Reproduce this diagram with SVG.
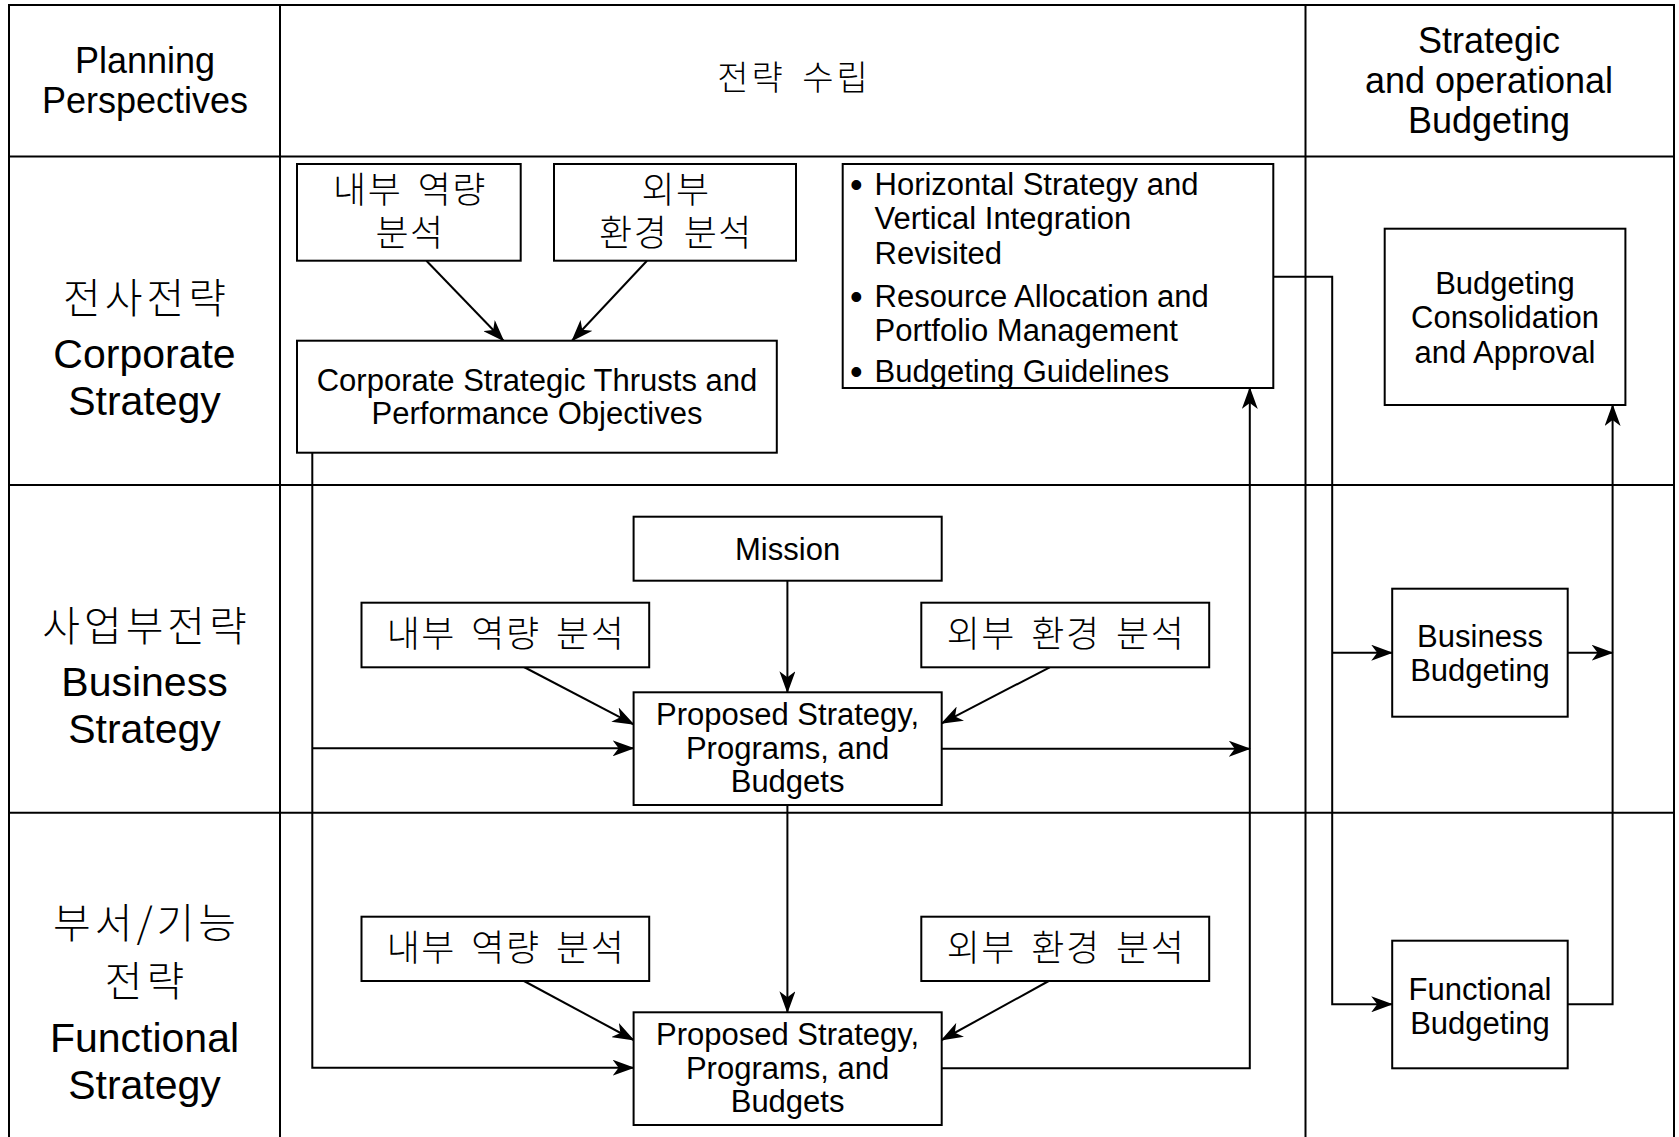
<svg xmlns="http://www.w3.org/2000/svg" width="1679" height="1137" viewBox="0 0 1679 1137">
  <style>
    .grid { stroke: #000; stroke-width: 2; fill: none; }
    .box { fill: #fff; stroke: #000; stroke-width: 2; }
    .conn { stroke: #000; stroke-width: 2; fill: none; }
    .arr { marker-end: url(#head); }
    text { fill: #000; text-anchor: middle; }
    .en { font-family: "Liberation Sans", Arial, sans-serif; }
    .ko { font-family: "Noto Sans CJK KR", "Noto Sans", sans-serif; font-weight: 300; word-spacing: 6px; }
    .hd { font-size: 36px; }
    .lbl { font-size: 41px; }
    .klbl { font-size: 41px; letter-spacing: 4px; }
    .bx { font-size: 31px; }
    .kbx { font-size: 36px; letter-spacing: 1.5px; }
    .dot { font-size: 36px; }
    .left { text-anchor: start; }
  </style>
  <defs>
    <marker id="head" viewBox="0 0 22 16" markerWidth="22" markerHeight="16" refX="21" refY="8" orient="auto" markerUnits="userSpaceOnUse">
      <path d="M0,0 L22,8 L0,16 L6,8 Z" fill="#000"/>
    </marker>
  </defs>

  <rect width="1679" height="1137" fill="#fff"/>

  <!-- table frame -->
  <g id="grid" class="grid">
    <rect x="9" y="5" width="1665" height="1140"/>
    <line x1="280" y1="5" x2="280" y2="1137"/>
    <line x1="1305.5" y1="5" x2="1305.5" y2="1137"/>
    <line x1="9" y1="156.5" x2="1674" y2="156.5"/>
    <line x1="9" y1="485" x2="1674" y2="485"/>
    <line x1="9" y1="812.7" x2="1674" y2="812.7"/>
  </g>

  <!-- column headers -->
  <g id="hdr-perspectives">
    <text class="en hd" x="145" y="72.5">Planning</text>
    <text class="en hd" x="145" y="112.5">Perspectives</text>
  </g>
  <g id="hdr-formulation">
    <text class="ko" font-size="34" letter-spacing="3" word-spacing="14" x="794" y="89.5">전략 수립</text>
  </g>
  <g id="hdr-budgeting">
    <text class="en hd" x="1489" y="53">Strategic</text>
    <text class="en hd" x="1489" y="93">and operational</text>
    <text class="en hd" x="1489" y="133">Budgeting</text>
  </g>

  <!-- row labels -->
  <g id="row-corporate">
    <text class="ko klbl" x="146.5" y="313">전사전략</text>
    <text class="en lbl" x="144.5" y="367.5">Corporate</text>
    <text class="en lbl" x="144.5" y="414.5">Strategy</text>
  </g>
  <g id="row-business">
    <text class="ko klbl" x="146.5" y="641">사업부전략</text>
    <text class="en lbl" x="144.5" y="695.5">Business</text>
    <text class="en lbl" x="144.5" y="742.5">Strategy</text>
  </g>
  <g id="row-functional">
    <text class="ko klbl" x="146.5" y="938" letter-spacing="2">부서/기능</text>
    <text class="ko klbl" x="146.5" y="996">전략</text>
    <text class="en lbl" x="144.5" y="1052">Functional</text>
    <text class="en lbl" x="144.5" y="1099">Strategy</text>
  </g>

  <!-- connectors -->
  <g id="connectors" class="conn">
    <path class="arr" d="M426.4,260.7 L503.6,340.7"/>
    <path class="arr" d="M647,260.7 L572,340.7"/>
    <path class="arr" d="M312.3,452.7 V1067.7 H633.6"/>
    <path class="arr" d="M312.3,748.3 H633.6"/>
    <path class="arr" d="M787.4,580.7 V692.3"/>
    <path class="arr" d="M522,666 L633.6,724.3"/>
    <path class="arr" d="M1049.7,667.3 L941.7,723.3"/>
    <path class="arr" d="M941.7,748.7 H1249.8"/>
    <path class="arr" d="M787.4,805 V1012.3"/>
    <path class="arr" d="M524,981 L633.6,1040"/>
    <path class="arr" d="M1048.7,981 L941.7,1040"/>
    <path class="arr" d="M941.7,1068.3 H1249.8 V388"/>
    <path class="arr" d="M1273.3,276.7 H1332.2 V1004.3 H1392.2"/>
    <path class="arr" d="M1332.2,652.7 H1392.2"/>
    <path class="arr" d="M1567.7,652.7 H1612.6"/>
    <path class="arr" d="M1567.7,1004.3 H1612.6 V405"/>
  </g>

  <!-- corporate level -->
  <g id="corp-internal">
    <rect class="box" x="297" y="164" width="223.7" height="96.7"/>
    <text class="ko kbx" x="410" y="203">내부 역량</text>
    <text class="ko kbx" x="410" y="246">분석</text>
  </g>
  <g id="corp-external">
    <rect class="box" x="554" y="164" width="242" height="96.7"/>
    <text class="ko kbx" x="676" y="203">외부</text>
    <text class="ko kbx" x="676" y="246">환경 분석</text>
  </g>
  <g id="corp-thrusts">
    <rect class="box" x="297" y="340.7" width="479.8" height="112"/>
    <text class="en bx" x="537" y="390.5">Corporate Strategic Thrusts and</text>
    <text class="en bx" x="537" y="424">Performance Objectives</text>
  </g>
  <g id="corp-guidelines">
    <rect class="box" x="842.7" y="164" width="430.6" height="224"/>
    <text class="en dot left" x="850" y="197">•</text>
    <text class="en bx left" x="874.5" y="195">Horizontal Strategy and</text>
    <text class="en bx left" x="874.5" y="229">Vertical Integration</text>
    <text class="en bx left" x="874.5" y="263.5">Revisited</text>
    <text class="en dot left" x="850" y="309">•</text>
    <text class="en bx left" x="874.5" y="307">Resource Allocation and</text>
    <text class="en bx left" x="874.5" y="340.5">Portfolio Management</text>
    <text class="en dot left" x="850" y="384">•</text>
    <text class="en bx left" x="874.5" y="382">Budgeting Guidelines</text>
  </g>

  <!-- business level -->
  <g id="bus-mission">
    <rect class="box" x="633.6" y="516.7" width="308.1" height="64"/>
    <text class="en bx" x="787.6" y="560">Mission</text>
  </g>
  <g id="bus-internal">
    <rect class="box" x="361.5" y="602.7" width="287.7" height="64.6"/>
    <text class="ko kbx" x="506" y="647">내부 역량 분석</text>
  </g>
  <g id="bus-external">
    <rect class="box" x="921.3" y="602.7" width="287.9" height="64.6"/>
    <text class="ko kbx" x="1066" y="647">외부 환경 분석</text>
  </g>
  <g id="bus-proposed">
    <rect class="box" x="633.6" y="692.3" width="308.1" height="112.7"/>
    <text class="en bx" x="787.6" y="725">Proposed Strategy,</text>
    <text class="en bx" x="787.6" y="758.5">Programs, and</text>
    <text class="en bx" x="787.6" y="792">Budgets</text>
  </g>

  <!-- functional level -->
  <g id="fn-internal">
    <rect class="box" x="361.5" y="916.7" width="287.7" height="64.3"/>
    <text class="ko kbx" x="506" y="961">내부 역량 분석</text>
  </g>
  <g id="fn-external">
    <rect class="box" x="921.3" y="916.7" width="287.9" height="64.3"/>
    <text class="ko kbx" x="1066" y="961">외부 환경 분석</text>
  </g>
  <g id="fn-proposed">
    <rect class="box" x="633.6" y="1012.3" width="308.1" height="112.7"/>
    <text class="en bx" x="787.6" y="1045">Proposed Strategy,</text>
    <text class="en bx" x="787.6" y="1078.5">Programs, and</text>
    <text class="en bx" x="787.6" y="1112">Budgets</text>
  </g>

  <!-- budgeting column -->
  <g id="budget-consolidation">
    <rect class="box" x="1384.7" y="228.7" width="240.7" height="176.3"/>
    <text class="en bx" x="1505" y="293.5">Budgeting</text>
    <text class="en bx" x="1505" y="328">Consolidation</text>
    <text class="en bx" x="1505" y="362.5">and Approval</text>
  </g>
  <g id="budget-business">
    <rect class="box" x="1392.2" y="588.7" width="175.5" height="128"/>
    <text class="en bx" x="1480" y="647">Business</text>
    <text class="en bx" x="1480" y="681">Budgeting</text>
  </g>
  <g id="budget-functional">
    <rect class="box" x="1392.2" y="940.7" width="175.5" height="127.6"/>
    <text class="en bx" x="1480" y="999.5">Functional</text>
    <text class="en bx" x="1480" y="1033.5">Budgeting</text>
  </g>
</svg>
